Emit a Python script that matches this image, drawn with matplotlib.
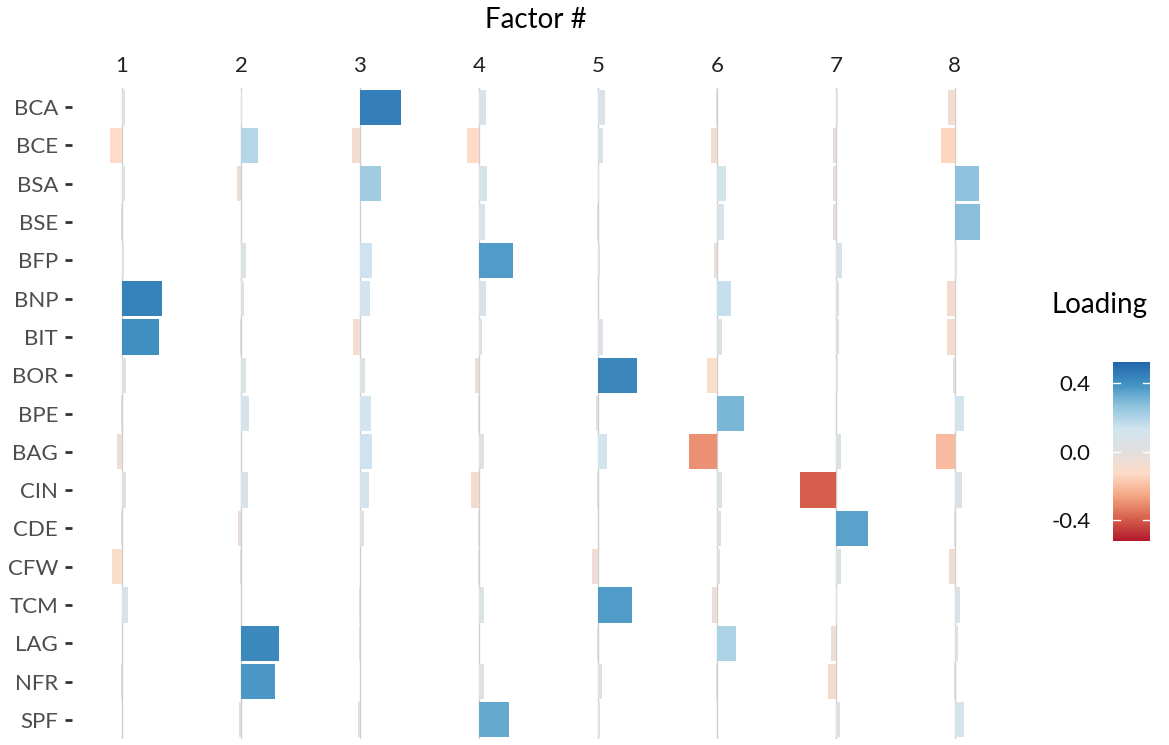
import numpy as np
import matplotlib
matplotlib.use("Agg")
import matplotlib.pyplot as plt
from matplotlib.colors import LinearSegmentedColormap, Normalize
from matplotlib.cm import ScalarMappable

plt.rcParams['font.family'] = ['Lato', 'DejaVu Sans']

variables = ["BCA", "BCE", "BSA", "BSE", "BFP", "BNP", "BIT", "BOR", "BPE",
             "BAG", "CIN", "CDE", "CFW", "TCM", "LAG", "NFR", "SPF"]
factors = ["1", "2", "3", "4", "5", "6", "7", "8"]

f1 = [0.04, -0.15, 0.04, -0.01, 0.02, 0.51, 0.47, 0.05, -0.01,
      -0.06, 0.05, -0.01, -0.13, 0.08, 0.005, -0.01, 0.005]
f2 = [0.01, 0.22, -0.05, 0.0, 0.06, 0.04, -0.01, 0.06, 0.10,
      0.005, 0.09, -0.04, -0.01, 0.0, 0.49, 0.44, -0.02]
f3 = [0.523, -0.10, 0.27, -0.005, 0.16, 0.13, -0.09, 0.07, 0.14,
      0.16, 0.11, 0.05, 0.005, -0.01, -0.01, 0.0, -0.02]
f4 = [0.09, -0.15, 0.10, 0.08, 0.43, 0.09, 0.04, -0.05, -0.01,
      0.06, -0.10, -0.01, -0.01, 0.07, 0.005, 0.06, 0.39]
f5 = [0.09, 0.07, 0.01, -0.005, 0.03, 0.005, 0.06, 0.50, -0.02,
      0.12, -0.005, 0.0, -0.07, 0.43, -0.005, 0.05, 0.03]
f6 = [-0.01, -0.08, 0.12, 0.09, -0.04, 0.18, 0.07, -0.13, 0.35,
      -0.35, 0.07, 0.05, 0.04, -0.06, 0.24, -0.005, 0.005]
f7 = [0.03, -0.03, -0.03, -0.03, 0.08, 0.04, 0.04, 0.03, 0.005,
      0.07, -0.46, 0.41, 0.07, 0.01, -0.06, -0.10, 0.05]
f8 = [-0.09, -0.17, 0.31, 0.32, 0.03, -0.10, -0.10, -0.02, 0.12,
      -0.24, 0.09, -0.005, -0.08, 0.07, 0.04, -0.005, 0.12]

loadings = np.array([f1, f2, f3, f4, f5, f6, f7, f8]).T  # rows=variables

cmap = LinearSegmentedColormap.from_list(
    "rdgybu",
    ["#b2182b", "#d6604d", "#f4a582", "#fddbc7", "#e2dfde",
     "#d1e5f0", "#92c5de", "#4393c3", "#2166ac"])
lim = np.abs(loadings).max()
cb_norm = Normalize(-lim, lim)
bar_norm = Normalize(-0.61, 0.61)

fig = plt.figure(figsize=(11.69, 7.45), dpi=100)
ax = fig.add_axes([72 / 1169, 6 / 745, (1000 - 72) / 1169, 651 / 745])

scale = 0.659  # column units per unit loading
nrow = len(variables)
ypos = np.arange(nrow)
for j in range(len(factors)):
    ax.axvline(j + 1, color="#cfcfcf", lw=1.0, zorder=0)
    vals = loadings[:, j]
    ax.barh(ypos, vals * scale, left=j + 1, height=0.92,
            color=cmap(bar_norm(vals)), zorder=2, linewidth=0)

ax.set_ylim(nrow - 0.5, -0.5)
ax.set_xlim(0.58, 8.38)
ax.set_yticks(ypos)
ax.set_yticklabels(variables, fontsize=16, color="#4d4d4d")
ax.set_xticks(np.arange(1, len(factors) + 1))
ax.set_xticklabels(factors, fontsize=16, color="#222222")
ax.xaxis.tick_top()
ax.tick_params(axis="x", length=0, pad=9)
ax.tick_params(axis="y", length=5, width=2, color="#333333", pad=5)
for s in ax.spines.values():
    s.set_visible(False)
ax.set_xlabel("Factor #", fontsize=20, labelpad=20)
ax.xaxis.set_label_position("top")

cax = fig.add_axes([1113 / 1169, (745 - 541) / 745, 37 / 1169, 179 / 745])
cb = fig.colorbar(ScalarMappable(norm=cb_norm, cmap=cmap), cax=cax)
cb.outline.set_visible(False)
cb.set_ticks([-0.4, 0.0, 0.4])
cb.set_ticklabels(["-0.4", "0.0", "0.4"])
cax.yaxis.set_ticks_position("left")
cax.tick_params(axis="y", length=0, labelsize=16, pad=16, labelcolor="#111111")
for t in [-0.4, 0.0, 0.4]:
    cax.plot([0, 0.2], [t, t], color="white", lw=1, transform=cax.get_yaxis_transform())
    cax.plot([0.8, 1.0], [t, t], color="white", lw=1, transform=cax.get_yaxis_transform())
fig.text(1052 / 1169, 1 - 305 / 745, "Loading", fontsize=20, va="center", ha="left")

fig.savefig("out.png", dpi=100)
